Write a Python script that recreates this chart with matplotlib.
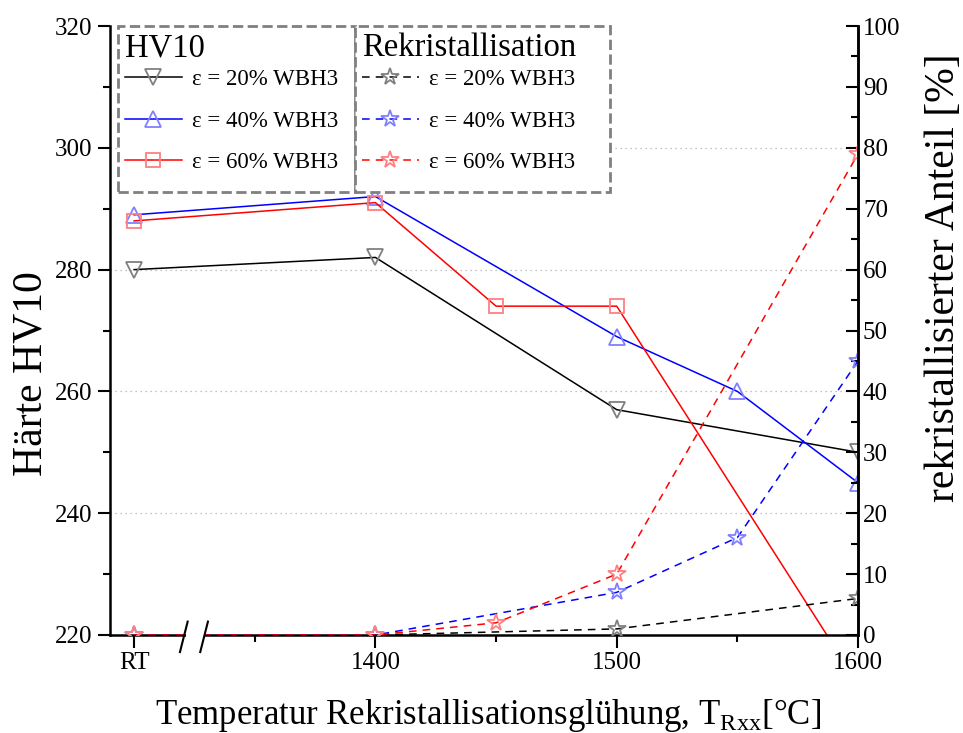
import numpy as np
import matplotlib
matplotlib.use('Agg')
import matplotlib.pyplot as plt
from matplotlib.patches import Rectangle

plt.rcParams['font.family'] = ['Liberation Serif', 'DejaVu Serif']
plt.rcParams['mathtext.fontset'] = 'custom'
plt.rcParams['mathtext.rm'] = 'Liberation Serif'

# Haerte HV10 (left axis); RT is placed at 1300 on the temperature axis
temp_hv_20 = [1300, 1400, 1500, 1600]
hv_20 = [280, 282, 257, 250]
temp_hv_40 = [1300, 1400, 1500, 1550, 1600]
hv_40 = [289, 292, 269, 260, 245]
temp_hv_60 = [1300, 1400, 1450, 1500, 1600]
hv_60 = [288, 291, 274, 274, 212]

# rekristallisierter Anteil in % (right axis)
temp_rx_20 = [1300, 1400, 1500, 1600]
rx_20 = [0, 0, 1, 6]
temp_rx_40 = [1300, 1400, 1500, 1550, 1600]
rx_40 = [0, 0, 7, 16, 45]
temp_rx_60 = [1300, 1400, 1450, 1500, 1600]
rx_60 = [0, 0, 2, 10, 79]

x_ticks = [1300, 1400, 1500, 1600]
x_labels = ['RT', '1400', '1500', '1600']
labels = ['ε = 20% WBH3', 'ε = 40% WBH3', 'ε = 60% WBH3']

fig = plt.figure(figsize=(9.63, 7.33), dpi=100)
ax = fig.add_axes([0.1142, 0.1337, 0.7768, 0.8308])
ax2 = ax.twinx()

# hardness curves
mk = dict(markerfacecolor='none', markeredgewidth=1.3, linewidth=1.1)
h1, = ax.plot(temp_hv_20, hv_20, color='black', marker='v', markersize=12,
              markeredgecolor='#808080', label=labels[0], **mk)
h2, = ax.plot(temp_hv_40, hv_40, color='blue', marker='^', markersize=12,
              markeredgecolor='#8080ff', label=labels[1], **mk)
h3, = ax.plot(temp_hv_60, hv_60, color='red', marker='s', markersize=10,
              markeredgecolor='#ff8080', label=labels[2], **mk)

# recrystallisation curves
r1, = ax2.plot(temp_rx_20, rx_20, color='black', linestyle=(0, (5, 4)), marker='*',
               markersize=13, markeredgecolor='#808080', label=labels[0], **mk)
r2, = ax2.plot(temp_rx_40, rx_40, color='blue', linestyle=(0, (5, 4)), marker='*',
               markersize=13, markeredgecolor='#8080ff', label=labels[1], **mk)
r3, = ax2.plot(temp_rx_60, rx_60, color='red', linestyle=(0, (5, 4)), marker='*',
               markersize=13, markeredgecolor='#ff8080', label=labels[2], **mk)

ax.set_xlim(1290, 1600)
ax.set_ylim(220, 320)
ax2.set_ylim(0, 100)

ax.set_xticks(x_ticks)
ax.set_xticklabels(x_labels)
ax.set_xticks([1350, 1450, 1550], minor=True)
ax.set_yticks(np.arange(220, 321, 20))
ax.set_yticks(np.arange(230, 321, 20), minor=True)
ax2.set_yticks(np.arange(0, 101, 10))
ax2.set_yticks(np.arange(5, 101, 10), minor=True)

ax.yaxis.grid(True, linestyle=(0, (1, 3)), color='#b0b0b0', linewidth=0.9)
gl = ax.get_ygridlines()
gl[0].set_visible(False)
gl[-1].set_visible(False)

for a in (ax, ax2):
    a.spines['top'].set_visible(False)
    for s in a.spines.values():
        s.set_linewidth(1.8)
ax2.spines['left'].set_visible(False)
ax2.spines['bottom'].set_visible(False)

ax.tick_params(axis='both', which='major', direction='out', length=9, width=1.5,
               labelsize=18)
ax.tick_params(axis='both', which='minor', direction='out', length=5, width=1.5)
ax2.tick_params(axis='y', which='major', direction='in', length=9, width=1.5,
                labelsize=18)
ax2.tick_params(axis='y', which='minor', direction='in', length=5, width=1.5)

# axis break between RT and 1400
ax.spines['bottom'].set_bounds(1329.5, 1600)
xt = ax.get_xaxis_transform()
ax.plot([1290, 1321.5], [0, 0], color='black', linewidth=1.8, transform=xt,
        clip_on=False, zorder=5)
ax2.add_patch(Rectangle((1321.6, -0.015), 7.8, 0.03, transform=ax2.get_xaxis_transform(),
                        facecolor='white', edgecolor='none', clip_on=False, zorder=6))
for xb in (1320.6, 1329.0):
    ax2.plot([xb - 1.6, xb + 1.6], [-0.028, 0.022], color='black', linewidth=1.5,
             transform=ax2.get_xaxis_transform(), clip_on=False, zorder=7)

ax.set_ylabel('Härte HV10', fontsize=30)
ax.yaxis.set_label_coords(-0.079, 0.43)
ax2.set_ylabel('rekristallisierter Anteil [%]', fontsize=30)
ax2.yaxis.set_label_coords(1.089, 0.586)
ax.set_xlabel('Temperatur Rekristallisationsglühung, T$_{\\mathrm{Rxx}}$[°C]', fontsize=25)
ax.xaxis.set_label_coords(0.505, -0.101)

# dashed legend boxes
for x0, x1 in ((0.0107, 0.3275), (0.3275, 0.6684)):
    ax2.add_patch(Rectangle((x0, 0.7274), x1 - x0, 1 - 0.7274, transform=ax2.transAxes,
                            facecolor='white', edgecolor='#808080', linestyle='--',
                            linewidth=2, zorder=8, clip_on=False))

leg_kw = dict(loc='upper left', fontsize=16.5, title_fontsize=23.5, alignment='left',
              frameon=False, borderaxespad=0, handlelength=2.5, handletextpad=0.45,
              labelspacing=0.9, borderpad=0.3)
leg1 = ax2.legend(handles=[h1, h2, h3], title='HV10',
                  bbox_to_anchor=(0.0107, 1.0), **leg_kw)
leg1._legend_box.sep = 4
leg1.set_zorder(9)
ax2.add_artist(leg1)
leg2 = ax2.legend(handles=[r1, r2, r3], title='Rekristallisation',
                  bbox_to_anchor=(0.3275, 1.0), **leg_kw)
leg2._legend_box.sep = 4
leg2.set_zorder(9)

fig.savefig('out.png', dpi=100)
